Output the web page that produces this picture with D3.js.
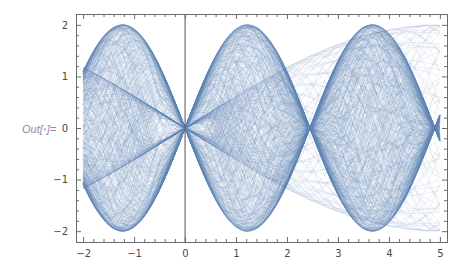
<!DOCTYPE html>
<html>
<head>
<meta charset="utf-8">
<script src="https://cdn.jsdelivr.net/npm/d3@7"></script>
<style>
  body { margin: 0; background: #fff; }
  svg { display: block; }
</style>
</head>
<body>
<div id="chart"></div>
<script>
// curve families, values:
// dense lobes pinch at x = 0, 2.45, 4.9 and peak at +-2
// faint fan is bounded by +-2 sin(pi x / 10), reaching 2 at x = 5
const amplitude = 2;
const lobeFreq = Math.PI / 2.45;
const fanFreq = Math.PI / 10;

// hand picked modulation frequencies / phases for the curves inside each family
const lobeMods = [0.02, 0.09, 0.16, 0.24, 0.33, 0.42, 0.53, 0.64, 0.77, 0.9, 1.04, 1.19, 1.35, 1.53, 1.72, 1.94, 2.18, 2.47];
const lobeShifts = [0, 0.13, 0.04, 0.19, 0.09, 0.27, 0.02, 0.16, 0.31, 0.07, 0.22, 0.11, 0.34, 0.05, 0.18, 0.26, 0.1, 0.21];
const lobePhases = [0.01, 0.07, 0.14, 0.24, 0.41, 0.63, 0.92, 1.27, 1.66, 2.05, 2.41, 2.71, 2.93, 3.04, 3.12, 3.19, 3.3, 3.47, 3.72, 4.05, 4.45, 4.86, 5.24, 5.58, 5.85, 6.06, 6.17, 6.25];
const fanMods = [0.02, 0.08, 0.14, 0.21, 0.29, 0.37, 0.46, 0.55, 0.66, 0.78, 0.91, 1.06, 1.22, 1.41, 1.63, 1.88];
const fanPhases = [0, 0.22, 0.57];
const fanSigns = [1, -1];

const xDomain = [-2, 5];
const xTicks = [-2, -1, 0, 1, 2, 3, 4, 5];
const yTicks = [-2, -1, 0, 1, 2];

const width = 452;
const height = 260;
const frame = { left: 76, right: 447, top: 14, bottom: 242 };

const svg = d3
  .select("#chart")
  .append("svg")
  .attr("width", width)
  .attr("height", height);

const x = d3.scaleLinear().domain([-2.14, 5.14]).range([frame.left, frame.right]);
const y = d3.scaleLinear().domain([-2.21, 2.21]).range([frame.bottom, frame.top]);

const xs = d3.range(xDomain[0], xDomain[1] + 0.0001, 0.02);

// build the curve list
let lobeCurves = [];
lobeMods.forEach((t, i) => {
  lobePhases.forEach(p => {
    let ph = p + lobeShifts[i];
    lobeCurves.push(xs.map(v => [v, amplitude * Math.sin(lobeFreq * v) * Math.cos(t * v + ph)]));
  });
});
let fanCurves = [];
fanMods.forEach(s => {
  fanPhases.forEach(p => {
    fanSigns.forEach(sg => {
      fanCurves.push(xs.map(v => [v, sg * amplitude * Math.sin(fanFreq * v) * Math.cos(s * v + p)]));
    });
  });
});

const line = d3
  .line()
  .x(d => x(d[0]))
  .y(d => y(d[1]));

svg
  .append("defs")
  .append("clipPath")
  .attr("id", "clip")
  .append("rect")
  .attr("x", frame.left)
  .attr("y", frame.top)
  .attr("width", frame.right - frame.left)
  .attr("height", frame.bottom - frame.top);

let plot = svg.append("g").attr("clip-path", "url(#clip)");

plot
  .append("g")
  .selectAll("path")
  .data(fanCurves)
  .enter()
  .append("path")
  .attr("d", line)
  .attr("fill", "none")
  .attr("stroke", "#5e81b5")
  .attr("stroke-opacity", 0.15)
  .attr("stroke-width", 0.8);

plot
  .append("g")
  .selectAll("path")
  .data(lobeCurves)
  .enter()
  .append("path")
  .attr("d", line)
  .attr("fill", "none")
  .attr("stroke", "#5e81b5")
  .attr("stroke-opacity", 0.12)
  .attr("stroke-width", 0.9);

// vertical axis at x = 0
svg
  .append("line")
  .attr("x1", x(0))
  .attr("x2", x(0))
  .attr("y1", frame.top)
  .attr("y2", frame.bottom)
  .attr("stroke", "#555")
  .attr("stroke-width", 1);

// frame with inward ticks
const frameColor = "#6b6b6b";
const xMinor = d3.range(-2.0, 5.0001, 0.2).filter(v => Math.abs(v - Math.round(v)) > 0.01);
const yMinor = d3.range(-2.0, 2.0001, 0.2).filter(v => Math.abs(v - Math.round(v)) > 0.01);
const fmt = d => (d < 0 ? "\u2212" + Math.abs(d) : d);

svg.append("g").attr("transform", `translate(0,${frame.bottom})`)
  .call(d3.axisBottom(x).tickValues(xTicks).tickSize(-5).tickPadding(8).tickFormat(fmt));
svg.append("g").attr("transform", `translate(${frame.left},0)`)
  .call(d3.axisLeft(y).tickValues(yTicks).tickSize(-5).tickPadding(8).tickFormat(fmt));
svg.append("g").attr("transform", `translate(0,${frame.top})`)
  .call(d3.axisTop(x).tickValues(xTicks).tickSize(-5).tickFormat(""));
svg.append("g").attr("transform", `translate(${frame.right},0)`)
  .call(d3.axisRight(y).tickValues(yTicks).tickSize(-5).tickFormat(""));

svg.append("g").attr("transform", `translate(0,${frame.bottom})`)
  .call(d3.axisBottom(x).tickValues(xMinor).tickSize(-3).tickFormat(""));
svg.append("g").attr("transform", `translate(0,${frame.top})`)
  .call(d3.axisTop(x).tickValues(xMinor).tickSize(-3).tickFormat(""));
svg.append("g").attr("transform", `translate(${frame.left},0)`)
  .call(d3.axisLeft(y).tickValues(yMinor).tickSize(-3).tickFormat(""));
svg.append("g").attr("transform", `translate(${frame.right},0)`)
  .call(d3.axisRight(y).tickValues(yMinor).tickSize(-3).tickFormat(""));

svg.selectAll(".domain").attr("stroke", frameColor).attr("stroke-width", 1);
svg.selectAll(".tick line").attr("stroke", frameColor);
svg
  .selectAll(".tick text")
  .attr("fill", "#4a4a4a")
  .attr("font-family", "'DejaVu Sans', sans-serif")
  .attr("font-size", 10);

// Mathematica output label
const outLabel = svg
  .append("text")
  .attr("x", 22)
  .attr("y", 133)
  .attr("font-family", "'Liberation Sans', sans-serif")
  .attr("font-style", "italic")
  .attr("font-size", 11)
  .attr("fill", "#8b8ba0");
outLabel.append("tspan").text("Out[");
outLabel.append("tspan").attr("fill", "#c8c8d0").text("\u2022");
outLabel.append("tspan").text("]=");
</script>
</body>
</html>
